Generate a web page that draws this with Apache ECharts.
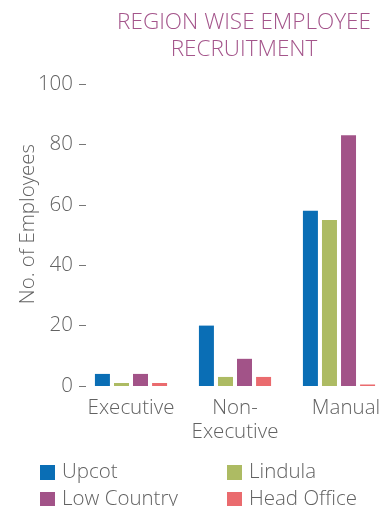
<!DOCTYPE html>
<html>
<head>
<meta charset="utf-8">
<script src="https://cdn.jsdelivr.net/npm/echarts@6/dist/echarts.min.js"></script>
<style>
  html, body { margin: 0; padding: 0; background: #fff; }
  #chart { width: 391px; height: 506px; }
</style>
</head>
<body>
<div id="chart"></div>
<script>
// categories and series values
var categories = ['Executive', 'Non-\nExecutive', 'Manual'];
var seriesNames = ['Upcot', 'Lindula', 'Low Country', 'Head Office'];
var seriesColors = ['#0a6eb5', '#adbb63', '#a25388', '#ea6b6e'];
var upcot = [4, 20, 58];
var lindula = [1, 3, 55];
var lowCountry = [4, 9, 83];
var headOffice = [1, 3, 0.5];

var chart = echarts.init(document.getElementById('chart'));
var textColor = '#626262';
var fontFamily = 'Open Sans';
var fs = 20.5;

function bar(i, data) {
    return {
        name: seriesNames[i],
        type: 'bar',
        data: data,
        barWidth: 15,
        barGap: '27%',
        itemStyle: { color: seriesColors[i] }
    };
}

// one legend per item, laid out as a 2x2 grid
var legendPos = [[40, 462], [227, 462], [40, 489], [227, 489]];
var legends = seriesNames.map(function (name, i) {
    return {
        data: [name],
        left: legendPos[i][0],
        top: legendPos[i][1],
        padding: 0,
        itemWidth: 15,
        itemHeight: 15,
        itemGap: 0,
        icon: 'rect',
        selectedMode: false,
        textStyle: { color: textColor, fontSize: fs, fontWeight: 300, fontFamily: fontFamily, padding: [0, 0, 0, 2] }
    };
});

chart.setOption({
    animation: false,
    textStyle: { fontFamily: fontFamily },
    title: {
        text: 'REGION WISE EMPLOYEE\nRECRUITMENT',
        left: 239,
        top: 4,
        textAlign: 'center',
        textStyle: {
            color: '#a4558b',
            fontSize: 22.5,
            fontWeight: 300,
            lineHeight: 27,
            fontFamily: fontFamily
        }
    },
    legend: legends,
    grid: { left: 79, right: -4, top: 84, bottom: 120, containLabel: false },
    xAxis: {
        type: 'category',
        data: categories.map(function (c, i) {
            return i === categories.length - 1 ? { value: c, textStyle: { padding: [0, 0, 0, 14] } } : c;
        }),
        axisLine: { show: false },
        axisTick: { show: false },
        axisLabel: {
            color: textColor,
            fontSize: fs,
            fontWeight: 300,
            lineHeight: 24,
            margin: 10,
            interval: 0
        }
    },
    yAxis: {
        type: 'value',
        min: 0,
        max: 100,
        interval: 20,
        name: 'No. of Employees',
        nameLocation: 'middle',
        nameGap: 40,
        nameMoveOverlap: false,
        nameTextStyle: { color: textColor, fontSize: fs, fontWeight: 300, padding: [0, 0, 0, 22] },
        axisLine: { show: false },
        axisTick: { show: true, inside: true, length: 7, lineStyle: { color: '#777777', width: 1 } },
        splitLine: { show: false },
        axisLabel: { color: textColor, fontSize: fs, fontWeight: 300, margin: 6 }
    },
    series: [
        bar(0, upcot),
        bar(1, lindula),
        bar(2, lowCountry),
        bar(3, headOffice)
    ]
});
</script>
</body>
</html>
